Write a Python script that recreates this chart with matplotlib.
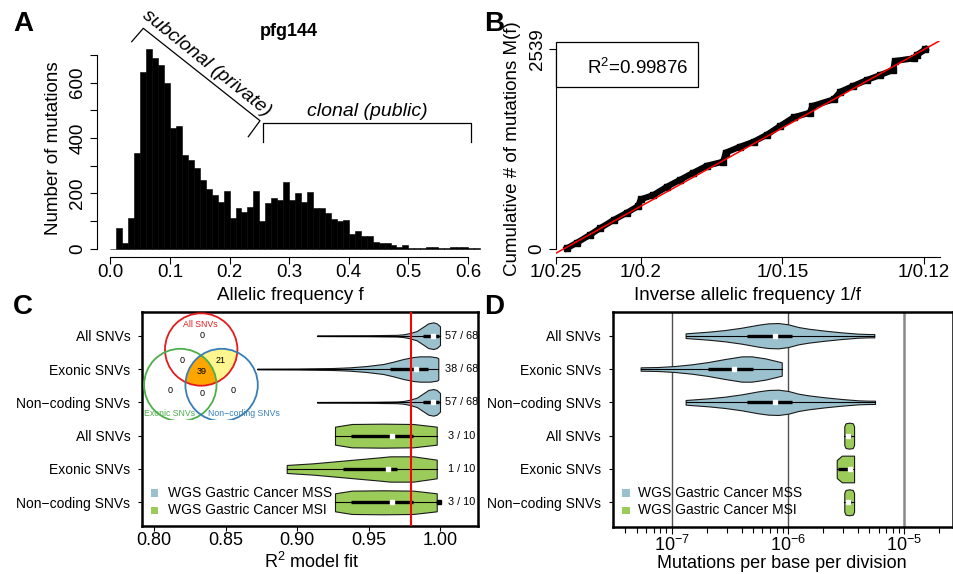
import numpy as np
import matplotlib
matplotlib.use('Agg')
import matplotlib.pyplot as plt
from matplotlib.patches import Circle, Polygon, Rectangle
from matplotlib.lines import Line2D
from matplotlib.ticker import LogLocator, NullFormatter, FixedLocator

plt.rcParams['font.family'] = ['Liberation Sans', 'DejaVu Sans']
plt.rcParams['mathtext.fontset'] = 'custom'
plt.rcParams['mathtext.rm'] = 'Liberation Sans'
plt.rcParams['mathtext.it'] = 'Liberation Sans:italic'
plt.rcParams['mathtext.bf'] = 'Liberation Sans:bold'

### A: allelic frequency histogram (bins of 0.01 from 0) ###
bin_width = 0.01
hist_counts = [0, 76, 22, 111, 347, 640, 722, 688, 664, 598,
               437, 442, 337, 319, 293, 247, 214, 194, 169, 207,
               110, 147, 133, 149, 210, 101, 165, 182, 175, 242,
               176, 202, 167, 204, 146, 147, 128, 106, 101, 104,
               53, 65, 47, 47, 26, 19, 19, 14, 7, 13,
               1, 1, 2, 5, 7, 4, 1, 5, 5, 7,
               2, 1]
sample_name = 'pfg144'

### B: cumulative mutations vs 1/f ###
b_inv_f = [4.13, 4.25, 4.40, 4.52, 4.68, 4.84, 4.97, 5.00, 5.15, 5.31, 5.46,
           5.62, 5.78, 5.97, 6.00, 6.17, 6.33, 6.48, 6.64, 6.80, 6.99, 7.02,
           7.27, 7.35, 7.50, 7.66, 7.82, 7.97, 7.99, 8.21, 8.25, 8.35]
b_cum = [4, 76, 174, 259, 365, 459, 543, 628, 684, 790, 875,
         968, 1057, 1108, 1223, 1299, 1363, 1448, 1562, 1673, 1732, 1817,
         1902, 2000, 2072, 2148, 2212, 2276, 2390, 2424, 2467, 2539]
fit_x = [4.0, 8.52]
fit_y = [-59, 2649]
r2_value = 0.99876
b_xticks = [1/0.25, 1/0.2, 1/0.15, 1/0.12]
b_xticklabels = ['1/0.25', '1/0.2', '1/0.15', '1/0.12']
b_yticks = [0, 2539]

### C / D: violins ###
row_labels = ['All SNVs', 'Exonic SNVs', 'Non\u2212coding SNVs'] * 2
group_names = ['WGS Gastric Cancer MSS', 'WGS Gastric Cancer MSI']
group_colors = ['#9bc1cf', '#9bcc5a']
row_group = [0, 0, 0, 1, 1, 1]
fit_counts = ['57 / 68', '38 / 68', '57 / 68', '3 / 10', '1 / 10', '3 / 10']
r2_cut = 0.98

# violin outlines: positions and half widths (row units)
r2_x = [[0.914, 0.950, 0.9697, 0.9743, 0.979, 0.9837, 0.9883, 0.9918, 0.9953, 0.9977, 1.0],
        [0.8721, 0.900, 0.9253, 0.937, 0.9487, 0.9603, 0.9673, 0.9743, 0.9813, 0.986, 0.993, 0.9977, 0.9988],
        [0.914, 0.950, 0.9697, 0.9743, 0.979, 0.9837, 0.9883, 0.9918, 0.9953, 0.9977, 1.0],
        [0.9265, 0.9382, 0.960, 0.9813, 0.9977],
        [0.8927, 0.9113, 0.9347, 0.958, 0.965, 0.9813, 0.9977],
        [0.9265, 0.9382, 0.960, 0.9813, 0.9977]]
r2_hw = [[0.01, 0.015, 0.025, 0.04, 0.08, 0.14, 0.27, 0.37, 0.40, 0.37, 0.28],
         [0.01, 0.015, 0.03, 0.05, 0.09, 0.15, 0.22, 0.30, 0.36, 0.38, 0.38, 0.35, 0.32],
         [0.01, 0.015, 0.025, 0.04, 0.08, 0.14, 0.27, 0.37, 0.40, 0.37, 0.28],
         [0.27, 0.35, 0.36, 0.35, 0.27],
         [0.12, 0.17, 0.26, 0.35, 0.38, 0.38, 0.28],
         [0.27, 0.35, 0.36, 0.35, 0.27]]
r2_q1 = [0.988, 0.965, 0.988, 0.938, 0.932, 0.938]
r2_med = [0.9949, 0.983, 0.9949, 0.9664, 0.9634, 0.9664]
r2_q3 = [0.999, 0.9918, 0.999, 0.981, 0.9697, 0.981]
r2_extra_row = 6
r2_extra_val = 0.9995

# mutation rate, log10 scale
mu_x = [[-6.880, -6.685, -6.541, -6.398, -6.255, -6.169, -6.083, -5.997, -5.911, -5.825, -5.682, -5.538, -5.395, -5.309, -5.258],
        [-7.267, -7.115, -6.972, -6.828, -6.685, -6.542, -6.398, -6.312, -6.197, -6.112, -6.054],
        [-6.880, -6.685, -6.541, -6.398, -6.255, -6.169, -6.083, -5.997, -5.911, -5.825, -5.682, -5.538, -5.395, -5.309, -5.252],
        [-5.516, -5.505, -5.474, -5.443, -5.432],
        [-5.581, -5.537, -5.432],
        [-5.516, -5.505, -5.474, -5.443, -5.432]]
mu_hw = [[0.07, 0.12, 0.17, 0.24, 0.33, 0.37, 0.38, 0.34, 0.26, 0.21, 0.15, 0.10, 0.06, 0.05, 0.05],
         [0.05, 0.06, 0.09, 0.14, 0.21, 0.30, 0.38, 0.38, 0.32, 0.25, 0.20],
         [0.07, 0.12, 0.17, 0.24, 0.33, 0.37, 0.38, 0.34, 0.26, 0.21, 0.15, 0.10, 0.06, 0.05, 0.05],
         [0.28, 0.37, 0.39, 0.37, 0.28],
         [0.27, 0.40, 0.40],
         [0.28, 0.37, 0.39, 0.37, 0.28]]
mu_q1 = [-6.355, -6.685, -6.355, -5.49, -5.57, -5.49]
mu_med = [-6.112, -6.464, -6.112, -5.481, -5.467, -5.481]
mu_q3 = [-5.963, -6.304, -5.963, -5.455, -5.46, -5.455]
mu_decades = [1e-7, 1e-6, 1e-5]

# venn of samples passing the fit
venn_names = ['All SNVs', 'Exonic SNVs', 'Non\u2212coding SNVs']
venn_colors = ['#e41a1c', '#4daf4a', '#377eb8']
venn_counts = {'a': 0, 'e': 0, 'n': 0, 'ae': 0, 'an': 21, 'en': 0, 'aen': 39}

W, H = 954, 574
fig = plt.figure(figsize=(W / 100, H / 100), dpi=100)


def px_axes(l, t, r, b):
    return fig.add_axes([l / W, 1 - b / H, (r - l) / W, (b - t) / H])


def ftext(x, y, s, **kw):
    return fig.text(x / W, 1 - y / H, s, **kw)


def fline(xs, ys, **kw):
    fig.add_artist(Line2D([x / W for x in xs], [1 - y / H for y in ys],
                          transform=fig.transFigure, **kw))


# panel letters
for lab, (x, y) in zip('ABCD', [(23, 24), (494, 24), (23, 307), (494, 307)]):
    ftext(x, y, lab, fontsize=20, weight='bold', ha='center', va='center')

### A ###
axA = px_axes(97, 40, 483, 256.7)
lefts = np.arange(len(hist_counts)) * bin_width
axA.bar(lefts, hist_counts, width=bin_width, align='edge', color='black',
        edgecolor='black', lw=0.4)
axA.set_xlim(-0.0223, 0.6251)
axA.set_ylim(-28.9, 754.2)
for s in ['top', 'right']:
    axA.spines[s].set_visible(False)
axA.spines['left'].set_bounds(0, 700)
axA.spines['bottom'].set_bounds(0, 0.6)
axA.set_yticks(range(0, 701, 100))
axA.set_yticklabels(['0', '', '200', '', '400', '', '600', ''], rotation=90, va='center')
axA.set_xticks([0, 0.1, 0.2, 0.3, 0.4, 0.5, 0.6])
axA.set_xticklabels(['0.0', '0.1', '0.2', '0.3', '0.4', '0.5', '0.6'])
axA.tick_params(axis='x', length=4.8, width=0.8, labelsize=13.5, pad=0.6)
axA.tick_params(axis='y', length=5.3, width=0.8, labelsize=13.5, pad=2.4)
ftext(289, 31.7, sample_name, fontsize=13, weight='bold', ha='center', va='center')
ftext(54, 148, 'Number of mutations', fontsize=13.5, rotation=90, ha='center', va='center')
ftext(290, 295, 'Allelic frequency f', fontsize=13.5, ha='center', va='center')
# subclonal / clonal brackets
fline([131.7, 143.3, 260, 248.3], [41.7, 28.3, 120.7, 136.7], color='black', lw=0.9)
ftext(207, 63, 'subclonal (private)', fontsize=14, style='italic', rotation=-38.7,
      rotation_mode='anchor', ha='center', va='center')
fline([263.3, 263.3, 471, 471], [141.7, 123.3, 123.3, 141.7], color='black', lw=0.9)
ftext(367, 111.5, 'clonal (public)', fontsize=14, style='italic', ha='center', va='center')

### B ###
axB = px_axes(555.7, 41.3, 940, 256.7)
axB.plot(b_inv_f, b_cum, color='black', lw=4.4, marker='s', ms=4.2, solid_joinstyle='miter')
axB.axline((fit_x[0], fit_y[0]), (fit_x[1], fit_y[1]), color='red', lw=1.1)
axB.set_xlim(4.0, 8.521)
axB.set_ylim(-101.9, 2640.9)
for s in ['top', 'right']:
    axB.spines[s].set_visible(False)
axB.spines['left'].set_bounds(0, 2539)
axB.set_xticks(b_xticks)
axB.set_xticklabels(b_xticklabels)
axB.set_yticks(b_yticks)
axB.set_yticklabels([str(v) for v in b_yticks], rotation=90, va='center')
axB.tick_params(axis='x', length=4.8, width=0.8, labelsize=13.5, pad=0.6)
axB.tick_params(axis='y', length=5.3, width=0.8, labelsize=13.5, pad=1.9)
fig.add_artist(Rectangle((555.7 / W, 1 - 86.7 / H), 142.6 / W, 45 / H, transform=fig.transFigure,
                         facecolor='white', edgecolor='black', lw=0.9))
ftext(688.3, 67.5, 'R$^2$=%.5f' % r2_value, fontsize=13.5, ha='right', va='center')
ftext(513, 149, 'Cumulative # of mutations M(f)', fontsize=13.5, rotation=90, ha='center', va='center')
ftext(748, 295, 'Inverse allelic frequency 1/f', fontsize=13.5, ha='center', va='center')


def violin(ax, row, xs, hw, color, q1, med, q3):
    xs = np.asarray(xs, float)
    hw = np.asarray(hw, float)
    ax.fill_between(xs, row - hw, row + hw, facecolor=color, edgecolor='#1a1a1a', lw=0.8, zorder=2)
    ax.plot([xs[0], xs[-1]], [row, row], color='black', lw=0.8, zorder=3)
    ax.plot([q1, q3], [row, row], color='black', lw=2.4, solid_capstyle='butt', zorder=4)
    ax.plot([med], [row], marker='s', ms=3.2, color='white', mec='white', zorder=5)


def style_box(ax):
    for s in ax.spines.values():
        s.set_linewidth(1.8)
    ax.set_yticks(range(1, 7))
    ax.set_yticklabels(row_labels)
    ax.tick_params(axis='y', length=3, width=0.8, labelsize=10, pad=5.5)


def legend_px(x_sq, x_txt):
    for k, y in enumerate([493, 510.5]):
        fig.add_artist(Rectangle(((x_sq - 3.8) / W, 1 - (y + 3.8) / H), 7.6 / W, 7.6 / H,
                                 transform=fig.transFigure, facecolor=group_colors[k],
                                 edgecolor='none', zorder=10))
        ftext(x_txt, y, group_names[k], fontsize=10, ha='left', va='center', zorder=10)


### C ###
axC = px_axes(142.3, 311.7, 478, 526)
for i in range(6):
    violin(axC, i + 1, r2_x[i], r2_hw[i], group_colors[row_group[i]], r2_q1[i], r2_med[i], r2_q3[i])
    axC.text(1.0152, i + 1, fit_counts[i], fontsize=7.8, ha='center', va='center')
axC.plot([r2_extra_val], [r2_extra_row], marker='s', ms=3, color='black', zorder=5)
axC.axvline(r2_cut, color='red', lw=1.5, zorder=6)
axC.set_xlim(0.7916, 1.0266)
axC.set_ylim(6.711, 0.28)
axC.set_xticks([0.80, 0.85, 0.90, 0.95, 1.00])
axC.set_xticklabels(['0.80', '0.85', '0.90', '0.95', '1.00'])
axC.tick_params(axis='x', length=3.4, width=0.8, labelsize=13, pad=0.8)
style_box(axC)
legend_px(154.5, 167.7)
ftext(311.7, 561.7, 'R$^2$ model fit', fontsize=13, ha='center', va='center')

# venn inset, drawn in pixel units
axV = px_axes(140, 312, 290, 420)
axV.set_xlim(140, 290)
axV.set_ylim(420, 312)
axV.axis('off')
axV.patch.set_alpha(0)
circles = [(201.2, 349.5, 36.2), (180.3, 385, 36.2), (221.6, 385, 36.2)]


def lens(cs, n=1440):
    pts = []
    t = np.linspace(0, 2 * np.pi, n, endpoint=False)
    for i, c in enumerate(cs):
        p = np.column_stack([c[0] + c[2] * np.cos(t), c[1] + c[2] * np.sin(t)])
        keep = np.ones(n, bool)
        for j, o in enumerate(cs):
            if j != i:
                keep &= (p[:, 0] - o[0]) ** 2 + (p[:, 1] - o[1]) ** 2 <= o[2] ** 2
        pts.append(p[keep])
    pts = np.vstack(pts)
    cen = pts.mean(axis=0)
    return pts[np.argsort(np.arctan2(pts[:, 1] - cen[1], pts[:, 0] - cen[0]))]


axV.add_patch(Polygon(lens([circles[0], circles[2]]), closed=True, facecolor='#fff68f', edgecolor='none'))
axV.add_patch(Polygon(lens(circles), closed=True, facecolor='#ffa500', edgecolor='none'))
for c, col in zip(circles, venn_colors):
    axV.add_patch(Circle(c[:2], c[2], fill=False, edgecolor=col, lw=1.3))
venn_pos = {'a': (201.7, 336), 'ae': (182.3, 360.7), 'an': (221, 360.7), 'aen': (202, 371.7),
            'e': (170, 390.7), 'en': (201.7, 394), 'n': (232.7, 390.7)}
for k, (x, y) in venn_pos.items():
    axV.text(x, y, str(venn_counts[k]), fontsize=6.5, ha='center', va='center')
for name, col, (x, y) in zip(venn_names, venn_colors, [(200.3, 324.7), (170, 414), (243.7, 414)]):
    axV.text(x, y, name, fontsize=6.3, color=col, ha='center', va='center')

### D ###
axD = px_axes(612.7, 311.7, 952.7, 526.7)
axD.set_xscale('log')
for i in range(6):
    violin(axD, i + 1, 10 ** np.asarray(mu_x[i]), mu_hw[i], group_colors[row_group[i]],
           10 ** mu_q1[i], 10 ** mu_med[i], 10 ** mu_q3[i])
for d in mu_decades:
    axD.axvline(d, color='#505050' if d < 1e-5 else '#888888', lw=1.0 if d < 1e-5 else 1.8, zorder=1)
axD.set_xlim(10 ** -7.507, 10 ** -4.584)
axD.set_ylim(6.732, 0.28)
axD.xaxis.set_major_locator(FixedLocator(mu_decades))
axD.xaxis.set_minor_locator(LogLocator(base=10, subs=np.arange(2, 10)))
axD.xaxis.set_minor_formatter(NullFormatter())
axD.set_xticklabels(['$10^{-7}$', '$10^{-6}$', '$10^{-5}$'])
axD.tick_params(axis='x', which='major', length=5, width=0.8, labelsize=13, pad=0.8)
axD.tick_params(axis='x', which='minor', length=4, width=0.8)
style_box(axD)
legend_px(626, 638.3)
ftext(782, 563, 'Mutations per base per division', fontsize=13, ha='center', va='center')

fig.savefig('out.png', dpi=100)
